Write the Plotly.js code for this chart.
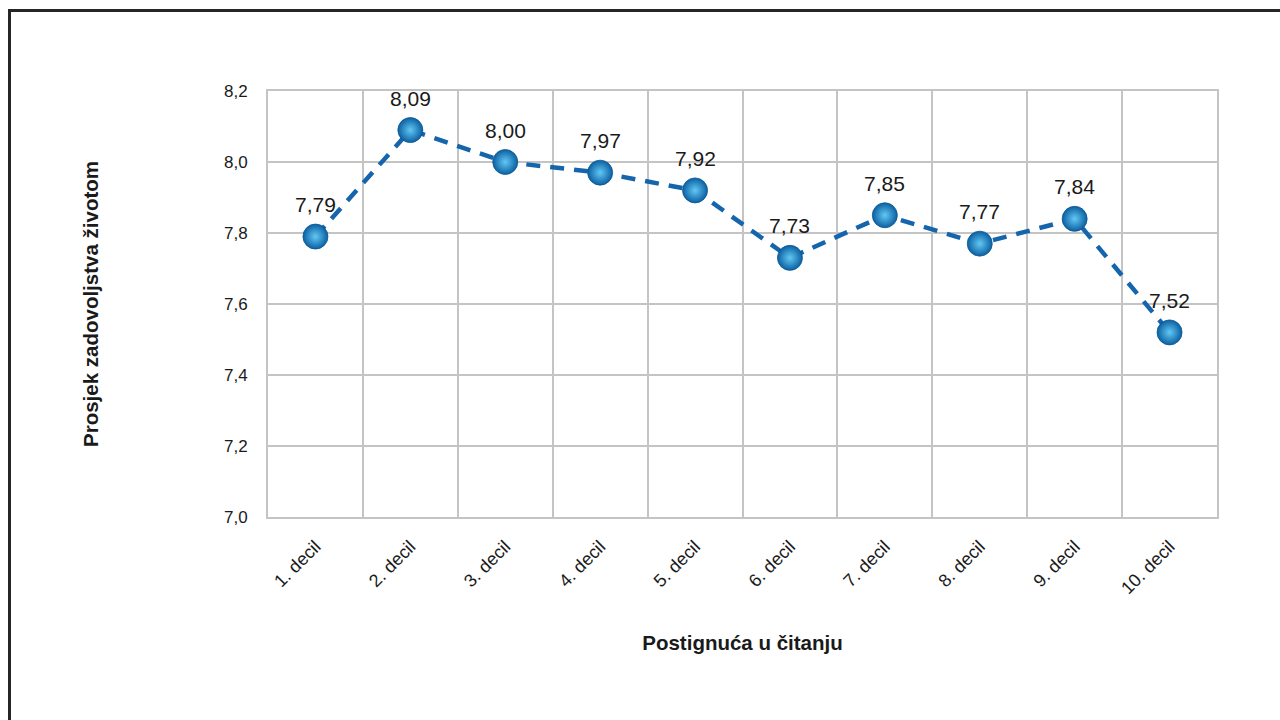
<!DOCTYPE html>
<html>
<head>
<meta charset="utf-8">
<script src="https://cdn.plot.ly/plotly-3.0.1.min.js"></script>
<style>
  html, body { margin: 0; padding: 0; background: #ffffff; }
  #wrap { position: relative; width: 1280px; height: 720px; overflow: hidden; }
  #chart { width: 1280px; height: 720px; }
  #frame {
    position: absolute; left: 8px; top: 9px; width: 1400px; height: 800px;
    border-left: 3px solid #262626; border-top: 3px solid #262626;
    pointer-events: none;
  }
</style>
</head>
<body>
<div id="wrap">
  <div id="chart"></div>
  <div id="frame"></div>
</div>
<script>
// Reading achievement deciles and mean life satisfaction
const deciles = ['1. decil', '2. decil', '3. decil', '4. decil', '5. decil',
                 '6. decil', '7. decil', '8. decil', '9. decil', '10. decil'];
const satisfaction = [7.79, 8.09, 8.00, 7.97, 7.92, 7.73, 7.85, 7.77, 7.84, 7.52];
const yTicks = [7.0, 7.2, 7.4, 7.6, 7.8, 8.0, 8.2];

const fontFamily = '"Liberation Sans", Arial, Helvetica, sans-serif';
const textColor = '#1a1a1a';

const lineTrace = {
  x: deciles, y: satisfaction, type: 'scatter', mode: 'lines',
  line: { color: '#1565ad', width: 4.5, dash: '14px,10px' },
  hoverinfo: 'skip', showlegend: false
};

const pointTrace = {
  x: deciles, y: satisfaction, type: 'scatter', mode: 'markers',
  marker: {
    size: 25, color: '#0b60a2',
    gradient: { type: 'radial', color: '#62c8f4' },
    line: { color: '#0d5790', width: 0.8 }
  },
  showlegend: false
};

// Value labels above each point, comma as decimal mark
const valueLabels = deciles.map((d, i) => ({
  x: d, y: satisfaction[i], xref: 'x', yref: 'y',
  text: satisfaction[i].toFixed(2).replace('.', ','),
  showarrow: false, yshift: 32,
  font: { family: fontFamily, size: 21, color: textColor }
}));

const layout = {
  width: 1280, height: 720,
  margin: { l: 268, r: 63, t: 91, b: 203 },
  paper_bgcolor: '#ffffff', plot_bgcolor: '#ffffff',
  separators: ', ',
  font: { family: fontFamily, color: textColor },
  annotations: valueLabels,
  xaxis: {
    type: 'category', range: [-0.5, 9.5], tickson: 'boundaries',
    showgrid: true, gridcolor: '#c4c4c4', gridwidth: 2,
    showline: true, linecolor: '#c4c4c4', linewidth: 2, mirror: true,
    ticks: '', tickangle: -45, ticklabelstandoff: 10,
    tickfont: { size: 18, family: fontFamily, color: textColor },
    zeroline: false, fixedrange: true,
    title: { text: 'Postignuća u čitanju', standoff: 38,
             font: { size: 20.5, family: fontFamily, weight: 'bold', color: textColor } }
  },
  yaxis: {
    range: [7.0, 8.2], tickvals: yTicks, tickformat: '.1f',
    showgrid: true, gridcolor: '#c4c4c4', gridwidth: 2,
    showline: true, linecolor: '#c4c4c4', linewidth: 2, mirror: true,
    ticks: '', ticklabelstandoff: 15,
    tickfont: { size: 17, family: fontFamily, color: textColor },
    zeroline: false, fixedrange: true,
    title: { text: 'Prosjek zadovoljstva životom', standoff: 120,
             font: { size: 20.5, family: fontFamily, weight: 'bold', color: textColor } }
  }
};

Plotly.newPlot('chart', [lineTrace, pointTrace], layout, { displayModeBar: false, staticPlot: true });
</script>
</body>
</html>
